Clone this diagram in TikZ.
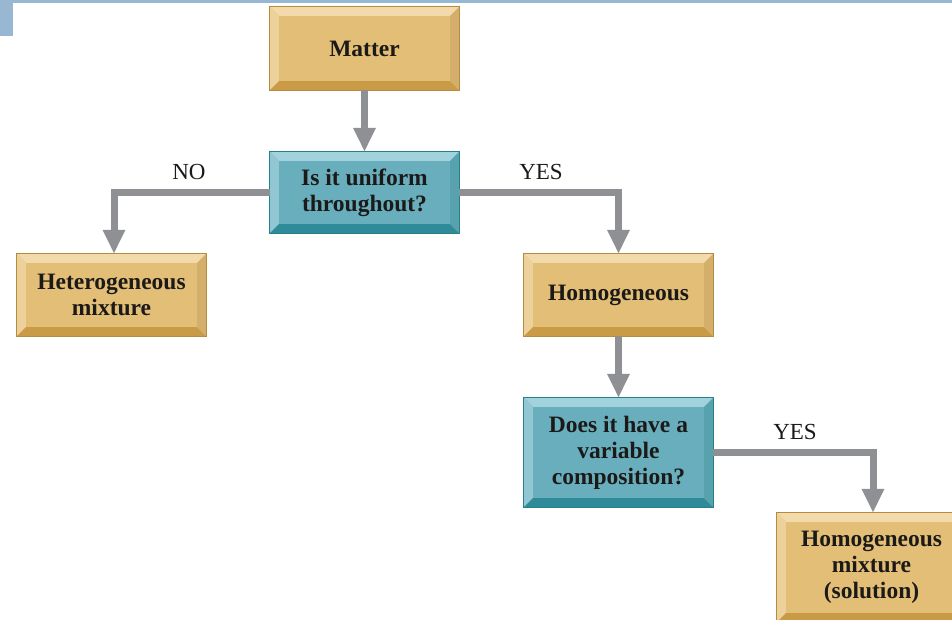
\documentclass[tikz,border=0pt]{standalone}
\usepackage{fontspec}
\setmainfont{Liberation Serif}
\usetikzlibrary{arrows.meta}

\definecolor{tanmain}{HTML}{E3BE77}
\definecolor{tanlight}{HTML}{F2DAAA}
\definecolor{tandark}{HTML}{C99B47}
\definecolor{tanedge}{HTML}{B78B3E}
\definecolor{bluemain}{HTML}{68AEBD}
\definecolor{bluelight}{HTML}{A2D2DC}
\definecolor{bluedark}{HTML}{2F8B99}
\definecolor{blueedge}{HTML}{25808E}
\definecolor{barblue}{HTML}{97B7D3}
\definecolor{arrgray}{HTML}{8E9094}
\definecolor{textdark}{HTML}{1C1A18}

\tikzset{
  box/.style={minimum width=189pt, inner sep=0pt, align=center,
    font=\fontsize{23.5}{26}\selectfont\bfseries, text=textdark},
  tanbox/.style={box, fill=tanmain},
  bluebox/.style={box, fill=bluemain},
  flow/.style={line width=7pt, draw=arrgray,
    -{Triangle[width=21pt,length=24pt]}},
  lbl/.style={font=\fontsize{23}{26}\selectfont, text=textdark},
}

% bevelled rim: lit top/left faces, shaded bottom/right faces, thin outline
\newcommand\bevelfaces[4]{%
  \fill[#2] (#1.north west) -- (#1.north east) -- ([shift={(-9,9)}]#1.north east)
    -- ([shift={(9,9)}]#1.north west) -- cycle;
  \fill[#2!85!#3] (#1.north west) -- ([shift={(9,9)}]#1.north west)
    -- ([shift={(9,-9)}]#1.south west) -- (#1.south west) -- cycle;
  \fill[#3] (#1.south west) -- (#1.south east) -- ([shift={(-9,-9)}]#1.south east)
    -- ([shift={(9,-9)}]#1.south west) -- cycle;
  \fill[#3!80!white] (#1.north east) -- ([shift={(-9,9)}]#1.north east)
    -- ([shift={(-9,-9)}]#1.south east) -- (#1.south east) -- cycle;
  \draw[#4, line width=0.8pt] (#1.north west) rectangle (#1.south east);
}

\begin{document}
\begin{tikzpicture}[x=1pt, y=-1pt]
  \clip (0,0) rectangle (952,620);
  \fill[white] (0,0) rectangle (952,620);

  % header strip
  \fill[barblue] (0,0) rectangle (952,3.5);
  \fill[barblue] (0,0) rectangle (13,36);

  % boxes
  \node[tanbox, minimum height=83pt] (matter) at (364.5,48.5) {};
  \bevelfaces{matter}{tanlight}{tandark}{tanedge}
  \node[box] at (matter) {Matter};

  \node[bluebox, minimum height=81pt] (uniform) at (364.5,192.5) {};
  \bevelfaces{uniform}{bluelight}{bluedark}{blueedge}
  \node[box] at (uniform) {Is it uniform\\throughout?};

  \node[tanbox, minimum height=82pt] (het) at (111.5,295) {};
  \bevelfaces{het}{tanlight}{tandark}{tanedge}
  \node[box] at (het) {Heterogeneous\\mixture};

  \node[tanbox, minimum height=82pt] (hom) at (618.5,295) {};
  \bevelfaces{hom}{tanlight}{tandark}{tanedge}
  \node[box] at (hom) {Homogeneous};

  \node[bluebox, minimum height=109pt] (does) at (618.5,452.5) {};
  \bevelfaces{does}{bluelight}{bluedark}{blueedge}
  \node[box] at (does) {Does it have a\\variable\\composition?};

  \node[tanbox, minimum height=109pt] (sol) at (871.5,567.5) {};
  \bevelfaces{sol}{tanlight}{tandark}{tanedge}
  \node[box] at (sol) {Homogeneous\\mixture\\(solution)};

  % connectors
  \draw[flow] (matter) -- (uniform);
  \draw[flow] (uniform.west) -| ([xshift=2.5pt]het.north);
  \draw[flow] (uniform.east) -| (hom.north);
  \draw[flow] (hom) -- (does);
  \draw[flow] (does.east) -| ([xshift=1.5pt]sol.north);

  % branch labels
  \node[lbl] (no1) at (189,172) {NO};
  \node[lbl] (yes1) at (541,172) {YES};
  \node[lbl] (yes2) at (795,432) {YES};
\end{tikzpicture}
\end{document}
